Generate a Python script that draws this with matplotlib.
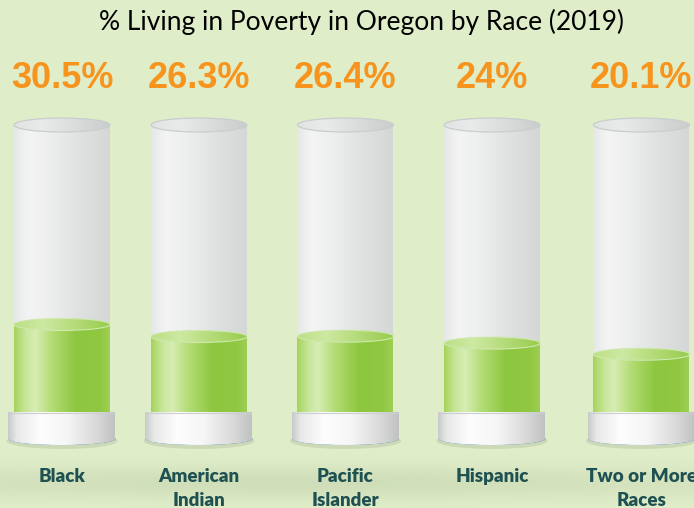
import numpy as np
import matplotlib
matplotlib.use("Agg")
import matplotlib.pyplot as plt
from matplotlib.patches import Rectangle, Ellipse

title = "% Living in Poverty in Oregon by Race (2019)"
categories = ["Black", "American\nIndian", "Pacific\nIslander", "Hispanic", "Two or More\nRaces"]
values = [30.5, 26.3, 26.4, 24.0, 20.1]
value_labels = ["30.5%", "26.3%", "26.4%", "24%", "20.1%"]

# layout (pixels)
W, H = 694, 508
centers = [62, 199, 345.5, 492, 641.5]
TUBE_W = 96
RING_W = 107
P = 2.87          # pixels per percentage point
BASE = 412        # pixel row of 0 %

fig = plt.figure(figsize=(W / 100, H / 100), dpi=100)
ax = fig.add_axes([0, 0, 1, 1])


def dy(pix):
    return (BASE - pix) / P


def dh(pix):
    return pix / P


ax.set_xlim(0, W)
ax.set_ylim(dy(H), dy(0))
ax.axis("off")


def grad(stops, n=200):
    pos = [s[0] for s in stops]
    cols = np.array([s[1] for s in stops], float) / 255
    x = np.linspace(0, 1, n)
    arr = np.stack([np.interp(x, pos, cols[:, k]) for k in range(3)], axis=-1)
    return arr[None, :, :]


def fill_grad(patch, stops, x0, x1, y0, y1, z):
    ax.add_patch(patch)
    patch.set_zorder(z)
    im = ax.imshow(grad(stops), extent=(x0, x1, y0, y1), aspect="auto",
                   zorder=z, interpolation="bilinear")
    im.set_clip_path(patch)


# background
yy = np.arange(H)[:, None]
xx = np.arange(W)[None, :]
base = np.array([224, 238, 201], float) / 255
dark = np.array([198, 214, 176], float) / 255
band = 0.65 * np.exp(-((yy - 482) / 17.0) ** 2) * (0.55 + 0.45 * np.exp(-((xx - 300) / 300.0) ** 2))
bg = base[None, None, :] * (1 - band[..., None]) + dark[None, None, :] * band[..., None]
ax.imshow(bg, extent=(0, W, dy(H), dy(0)), aspect="auto", zorder=0)

tube_stops = [(0, (229, 230, 230)), (0.15, (244, 244, 244)), (0.35, (238, 239, 239)),
              (0.7, (223, 225, 225)), (1, (213, 215, 215))]
top_stops = [(0, (226, 227, 227)), (0.3, (233, 234, 234)), (1, (203, 205, 205))]
green_stops = [(0, (165, 212, 92)), (0.12, (200, 230, 155)), (0.22, (215, 237, 180)),
               (0.4, (178, 220, 115)), (0.65, (141, 198, 63)), (0.9, (144, 200, 66)),
               (1, (158, 207, 84))]
gtop_stops = [(0, (186, 223, 132)), (0.3, (206, 233, 162)), (1, (152, 204, 77))]
ring_stops = [(0, (200, 201, 201)), (0.08, (232, 232, 232)), (0.3, (253, 253, 253)),
              (0.55, (246, 246, 246)), (0.85, (214, 214, 214)), (1, (192, 193, 193))]

for cx, v, lab, cat in zip(centers, values, value_labels, categories):
    x0, x1 = cx - TUBE_W / 2, cx + TUBE_W / 2
    # glass tube
    body = Rectangle((x0, 0), TUBE_W, 100, lw=0)
    fill_grad(body, tube_stops, x0, x1, 0, 100, 2)
    top = Ellipse((cx, 100), TUBE_W, dh(14), lw=0)
    fill_grad(top, top_stops, x0, x1, 100 - dh(7), 100 + dh(7), 3)
    ax.add_patch(Ellipse((cx, 100), TUBE_W, dh(14), fill=False, lw=0.9,
                         ec=(0.80, 0.81, 0.81), zorder=3.5))
    # green liquid
    gb = Rectangle((x0, 0), TUBE_W, v, lw=0)
    fill_grad(gb, green_stops, x0, x1, 0, v, 4)
    gt = Ellipse((cx, v), TUBE_W, dh(12), lw=0)
    fill_grad(gt, gtop_stops, x0, x1, v - dh(6), v + dh(6), 5)
    ax.add_patch(Ellipse((cx, v), TUBE_W, dh(12), fill=False, lw=0.8,
                         ec=(0.82, 0.92, 0.68), zorder=5.5))
    # base ring
    r0, r1 = cx - RING_W / 2, cx + RING_W / 2
    ax.add_patch(Ellipse((cx, dy(441)), RING_W + 4, dh(16), color=(0.72, 0.78, 0.66),
                         alpha=0.5, lw=0, zorder=5.8))
    re = Ellipse((cx, dy(439)), RING_W, dh(12), lw=0)
    fill_grad(re, ring_stops, r0, r1, dy(446), dy(432), 6)
    rr = Rectangle((r0, dy(439)), RING_W, dh(27), lw=0)
    fill_grad(rr, ring_stops, r0, r1, dy(439), dy(412), 6.5)
    ax.plot([r0 + 1, r1 - 1], [dy(412.5), dy(412.5)], color=(0.80, 0.81, 0.81), lw=0.8, zorder=7)
    # value label
    ax.text(cx, dy(88), lab, ha="center", va="baseline", fontsize=26,
            fontweight="bold", family="Liberation Sans", color="#f7941d", zorder=10)
    # category label
    for k, line in enumerate(cat.split("\n")):
        ax.text(cx, dy(482 + 24 * k), line, ha="center", va="baseline", fontsize=13.5,
                fontweight="heavy", family="Lato", color="#1f5152", zorder=10)

ax.text(362, dy(30), title, ha="center", va="baseline", fontsize=19,
        family="Lato", color="black", zorder=10)

fig.savefig("out.png", dpi=100)
